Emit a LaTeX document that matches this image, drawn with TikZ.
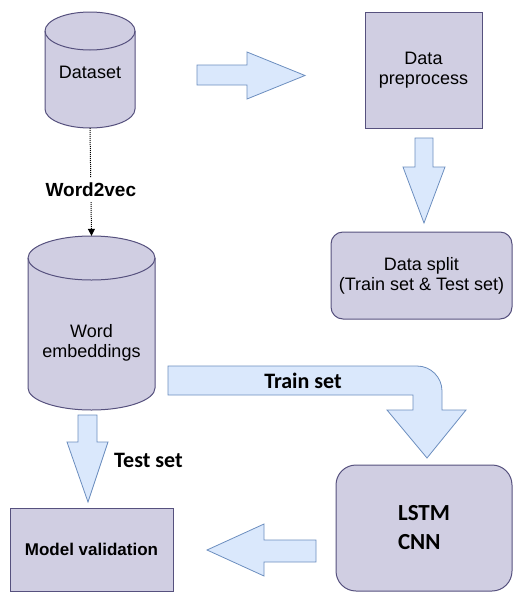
\documentclass[tikz,border=0pt]{standalone}
\usepackage{fontspec}
\setmainfont{Liberation Sans}
\newfontfamily\calibfont{Carlito}
\usetikzlibrary{shapes,arrows.meta,positioning}

\definecolor{boxfill}{HTML}{D0CEE2}
\definecolor{boxline}{HTML}{56517E}
\definecolor{arrfill}{HTML}{DAE8FC}
\definecolor{arrline}{HTML}{6C8EBF}

\tikzset{
  box/.style={rectangle, draw=boxline, fill=boxfill, line width=1pt, align=center, inner sep=0pt, font=\fontsize{18}{20}\selectfont},
  dbase/.style={rectangle, draw=none, inner sep=0pt},
  cylline/.style={draw=boxline, fill=boxfill, line width=1pt},
  txt/.style={align=center, inner sep=0pt, font=\fontsize{18}{20}\selectfont},
  blockarrow/.style={draw=arrline, fill=arrfill, line width=0.8pt},
  lbl/.style={inner sep=0pt, font=\calibfont\bfseries\fontsize{22}{24}\selectfont},
}

% cylinder outline: centre x, top y, bottom y, half width, cap radius
\newcommand\dbcyl[5]{%
  \path[cylline] (#1-#4,#2+#5) -- (#1-#4,#3-#5)
    arc[start angle=180, end angle=0, x radius=#4, y radius=#5] -- (#1+#4,#2+#5)
    arc[start angle=0, end angle=-180, x radius=#4, y radius=#5] -- cycle;
  \draw[boxline, line width=1pt] (#1-#4,#2+#5) arc[start angle=180, end angle=0, x radius=#4, y radius=#5];
}

\begin{document}
\begin{tikzpicture}[x=1pt, y=-1pt]
  \useasboundingbox (0,0) rectangle (513,592);

  % Storage
  \dbcyl{90}{12}{128}{45}{19}
  \node[dbase, minimum width=90, minimum height=116] (ds) at (90,70) {};
  \node[txt] (dstxt) at (90,72) {Dataset};
  \dbcyl{91.5}{236}{410}{63.5}{22}
  \node[dbase, minimum width=127, minimum height=174] (we) at (91.5,323) {};
  \node[txt] (wetxt) at (91.5,343) {Word\\embeddings};

  % Processing
  \node[box, minimum width=117, minimum height=116] (prep) at (423.5,70) {Data\\preprocess};
  \node[box, rounded corners=12pt, minimum width=181, minimum height=87] (split) at (421.5,275.5) {Data split\\(Train set \& Test set)};
  \node[box, rounded corners=20pt, minimum width=176, minimum height=126, align=left,
        font=\calibfont\bfseries\fontsize{23}{29}\selectfont] (model) at (424,528) {\rule{0pt}{6pt}LSTM\\CNN};
  \node[box, minimum width=163, minimum height=83, font=\bfseries\fontsize{17}{20}\selectfont] (val) at (91.5,549.5) {Model validation};

  % Word2vec link
  \draw[densely dotted, line width=1pt, -{Triangle[length=7pt,width=7pt]}] (ds.south) --
    node[pos=0.57, fill=white, inner sep=5pt, font=\bfseries\fontsize{19}{20}\selectfont] (w2v) {Word2vec} (we.north);

  % Block arrows
  \draw[blockarrow] (197,65) -- (247,65) -- (247,52) -- (305,75.5) -- (247,99) -- (247,85) -- (197,85) -- cycle;
  \draw[blockarrow] (415,138) -- (433,138) -- (433,167) -- (445,167) -- (424,223) -- (403,167) -- (415,167) -- cycle;
  \draw[blockarrow] (168,366) -- (417,366) arc[start angle=-90, end angle=0, radius=25] -- (442,410) -- (466,410)
    -- (427,458) -- (387,410) -- (413,410) -- (413,395) -- (168,395) -- cycle;
  \draw[blockarrow] (78,415) -- (97,415) -- (97,442) -- (108,442) -- (88,502) -- (67,442) -- (78,442) -- cycle;
  \draw[blockarrow] (316,540) -- (264,540) -- (264,524) -- (207,550) -- (264,576) -- (264,562) -- (316,562) -- cycle;

  % Arrow labels
  \node[lbl] (trainlbl) at (303,381) {Train set};
  \node[lbl, anchor=west] (testlbl) at (114,460) {Test set};
\end{tikzpicture}
\end{document}
